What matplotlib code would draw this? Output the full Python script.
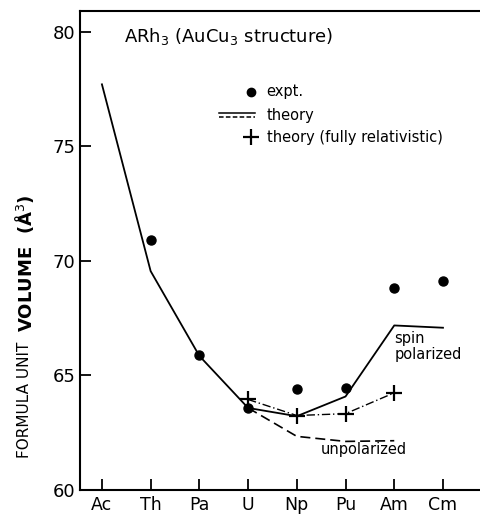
import matplotlib
matplotlib.use("Agg")
import matplotlib.pyplot as plt

elements = ["Ac", "Th", "Pa", "U", "Np", "Pu", "Am", "Cm"]

# spin polarized theory (solid), all elements
theory_spin = [77.7, 69.55, 65.85, 63.58, 63.22, 64.08, 67.18, 67.08]
# unpolarized theory (dashed), U..Am
theory_unpol = [63.58, 62.34, 62.12, 62.15]
# fully relativistic theory (dash-dot with crosses), U..Am
theory_rel = [63.95, 63.25, 63.33, 64.24]
# experiment, Th..Cm
expt = [70.9, 65.88, 63.59, 64.39, 64.46, 68.82, 69.14]

yticks = [60, 65, 70, 75, 80]

fig = plt.figure(figsize=(4.8, 5.15), dpi=100)
ax = fig.add_axes([80 / 480, 25 / 515, 400 / 480, 479 / 515])

xs = list(range(len(elements)))
ax.plot(xs, theory_spin, color="black", lw=1.3)
ax.plot(xs[3:7], theory_unpol, color="black", lw=1.2, ls=(0, (6, 3)))
ax.plot(xs[3:7], theory_rel, color="black", lw=1.0, ls=(0, (6, 2, 1, 2)),
        marker="+", ms=11, mew=1.6)
ax.plot(xs[1:], expt, "o", color="black", ms=6.5)

ax.set_xlim(-0.45, 7.76)
ax.set_ylim(60, 80.9)
ax.set_xticks(xs)
ax.set_xticklabels(elements)
ax.set_yticks(yticks)
ax.tick_params(direction="in", length=8, width=1.3, labelsize=13)
ax.tick_params(axis="x", pad=4, labelsize=12.5)
for s in ["left", "bottom", "top"]:
    ax.spines[s].set_linewidth(1.5)
ax.spines["right"].set_visible(False)

# y label: light first half, bold second half
fig.text(25 / 480, (515 - 458) / 515, "FORMULA UNIT", rotation=90,
         fontsize=11, ha="center", va="bottom")
fig.text(25 / 480, (515 - 332) / 515, "VOLUME  (Å$^3$)", rotation=90,
         fontsize=13, fontweight="bold", ha="center", va="bottom")

ax.text(0.45, 79.8, "ARh$_3$ (AuCu$_3$ structure)", fontsize=13, va="center")

# legend drawn by hand
ax.plot([3.06], [77.37], "o", color="black", ms=6)
ax.text(3.38, 77.37, "expt.", fontsize=10.5, va="center")
ax.plot([2.4, 3.15], [76.46, 76.46], color="black", lw=1.1)
ax.plot([2.4, 3.15], [76.26, 76.26], color="black", lw=1.1, ls=(0, (3, 1.5)))
ax.text(3.38, 76.36, "theory", fontsize=10.5, va="center")
ax.plot([3.06], [75.4], "+", color="black", ms=12, mew=1.6)
ax.text(3.38, 75.4, "theory (fully relativistic)", fontsize=10.5, va="center")

ax.text(6.0, 66.27, "spin\npolarized", fontsize=10.5, va="center", linespacing=1.05)
ax.text(4.5, 61.75, "unpolarized", fontsize=10.5, va="center")

fig.savefig("out.png", dpi=100)
